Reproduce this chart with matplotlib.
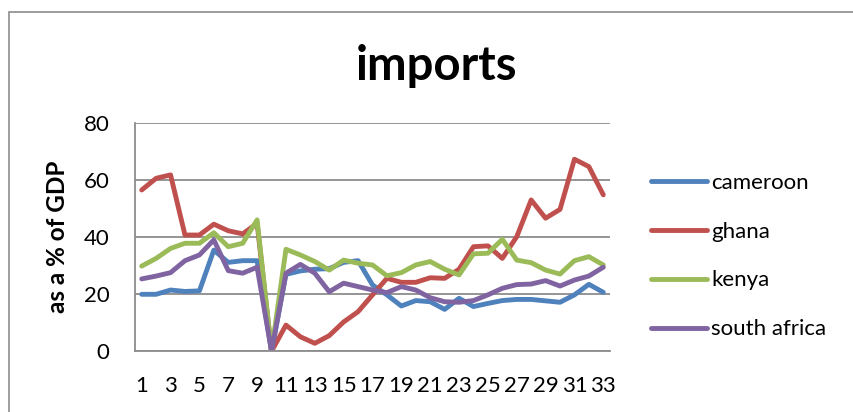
import matplotlib
matplotlib.use("Agg")
import matplotlib.pyplot as plt
from matplotlib.patches import Rectangle

# imports as a share of GDP, years numbered 1..33
years = list(range(1, 34))
cameroon = [20.0, 20.0, 21.5, 21.0, 21.2, 35.5, 31.2, 31.8, 31.8, 0.0,
            27.0, 28.2, 28.8, 29.0, 31.2, 31.8, 23.3, 19.8, 15.9, 17.8,
            17.4, 14.7, 18.6, 15.7, 16.8, 17.8, 18.2, 18.2, 17.7, 17.2,
            19.8, 23.5, 20.7]
ghana = [56.6, 60.7, 61.9, 40.8, 40.8, 44.6, 42.3, 41.2, 44.9, 0.0,
         9.2, 5.1, 2.8, 5.5, 10.3, 13.9, 19.8, 25.6, 24.2, 24.2,
         25.8, 25.6, 28.8, 36.7, 37.0, 32.6, 40.2, 53.1, 46.7, 49.8,
         67.4, 64.8, 54.9]
kenya = [29.9, 32.6, 36.1, 37.9, 37.9, 41.6, 36.7, 37.9, 46.1, 0.0,
         35.8, 33.8, 31.5, 28.5, 32.0, 30.9, 30.3, 26.5, 27.6, 30.3,
         31.5, 28.8, 26.8, 34.2, 34.4, 39.3, 32.0, 31.1, 28.5, 27.1,
         31.8, 33.2, 30.3]
south_africa = [25.4, 26.4, 27.6, 31.8, 33.8, 39.1, 28.3, 27.4, 29.5, 0.0,
                27.4, 30.5, 27.4, 20.9, 23.9, 22.7, 21.5, 20.6, 22.7, 21.5,
                18.8, 17.4, 17.2, 17.8, 19.8, 22.1, 23.4, 23.6, 24.8, 22.9,
                25.0, 26.4, 29.5]

series = [("cameroon", cameroon, "#4F81BD"),
          ("ghana", ghana, "#C0504D"),
          ("kenya", kenya, "#9BBB59"),
          ("south africa", south_africa, "#8064A2")]

y_ticks = [0, 20, 40, 60, 80]
x_ticks = list(range(1, 34, 2))

plt.rcParams["font.family"] = ["Lato", "DejaVu Sans"]

W, H = 854, 412
fig = plt.figure(figsize=(W / 100, H / 100), dpi=100)
fig.patch.set_facecolor("white")

# outer chart frame
fig.add_artist(Rectangle((9 / W, -0.1), 1.2, (H - 12) / H + 0.1,
                         transform=fig.transFigure, fill=False,
                         edgecolor="#8c8c8c", linewidth=1.2))

ax = fig.add_axes([134.5 / W, 1 - 351.3 / H, (610.5 - 134.5) / W,
                   (351.3 - 123.3) / H])

for name, vals, col in series:
    ax.plot(years, vals, color=col, linewidth=3.5, label=name,
            solid_joinstyle="round", solid_capstyle="round")

ax.set_xlim(0.5, 33.5)
ax.set_ylim(0, 80)
ax.set_yticks(y_ticks)
ax.set_xticks(x_ticks)
ax.set_xticklabels([str(t) for t in x_ticks])
ax.tick_params(axis="both", length=0, labelsize=16, colors="black")
ax.tick_params(axis="y", pad=18)
ax.tick_params(axis="x", pad=18)
ax.grid(axis="y", color="#8c8c8c", linewidth=1.3)
ax.set_axisbelow(True)
for side in ("top", "right"):
    ax.spines[side].set_visible(False)
for side in ("left", "bottom"):
    ax.spines[side].set_color("#8c8c8c")
    ax.spines[side].set_linewidth(1.3)

ax.set_ylabel("as a % of GDP", fontsize=17.5, fontweight="bold")
ax.yaxis.set_label_coords((69 - 134.5) / 476, 0.5)

fig.text(437 / W, 1 - 66 / H, "imports", fontsize=34, fontweight="bold",
         ha="center", va="center")

fig.legend(loc="center left", bbox_to_anchor=(651 / W, 1 - 256 / H),
           bbox_transform=fig.transFigure, frameon=False, fontsize=16,
           handlelength=2.5, handletextpad=0.2, labelspacing=1.3,
           borderaxespad=0, borderpad=0)

fig.savefig("out.png", dpi=100, facecolor="white")
